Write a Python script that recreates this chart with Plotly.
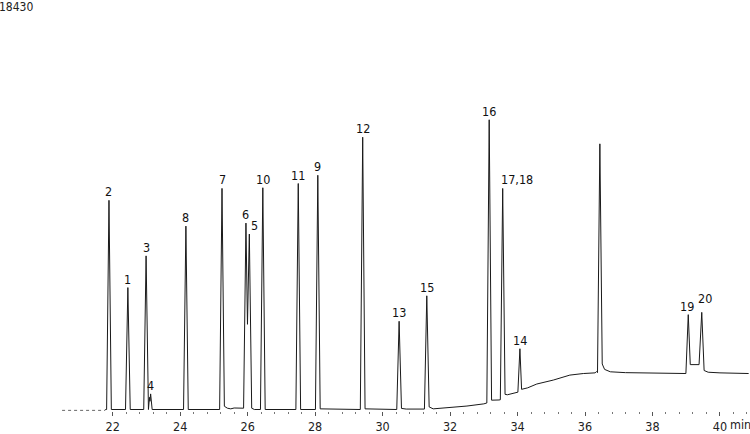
import plotly.graph_objects as go

# ---- data (time in min, signal in counts) ----
trace_time = [
    21.78, 21.82, 21.89, 21.96,
    22.38, 22.45, 22.52,
    22.92, 22.99, 23.05, 23.06, 23.09, 23.105, 23.125, 23.17,
    24.10, 24.17, 24.24,
    25.17, 25.24, 25.31, 25.40, 25.50, 25.60, 25.85, 25.88, 25.95, 25.995, 26.05, 26.12, 26.20,
    26.38, 26.45, 26.52,
    27.43, 27.50, 27.57,
    28.01, 28.08, 28.15,
    29.34, 29.41, 29.48,
    30.42, 30.49, 30.56, 30.70,
    31.24, 31.31, 31.38, 31.50,
    32.00, 32.50, 33.00, 33.09, 33.16, 33.23, 33.45, 33.49, 33.56, 33.63, 33.70, 33.95, 34.01, 34.07, 34.12,
    34.30, 34.57, 35.06, 35.55, 35.95, 36.30, 36.34, 36.37, 36.44, 36.51, 36.58, 36.75, 37.20, 38.00,
    38.99, 39.06, 39.12, 39.38, 39.46, 39.53, 39.65, 40.00, 40.85,
]
trace_signal = [
    0, 0, 9650, 0,
    0, 5625, 0,
    0, 7088, 0, 0, 560, 380, 720, 0,
    0, 8460, 0,
    0, 10200, 150, 60, 30, 70, 70, 60, 8600, 3930, 8094, 60, 0,
    0, 10230, 0,
    0, 10426, 0,
    0, 10806, 30,
    0, 12562, 30,
    0, 4070, 50, 20,
    20, 5245, 120, 30,
    80, 160, 260, 300, 13367, 430, 440, 450, 10198, 700, 680, 760, 800, 2803, 930,
    1000, 1175, 1358, 1587, 1660, 1690, 1750, 1700, 12256, 2100, 1850, 1740, 1700, 1680,
    1660, 4376, 2071, 2071, 4482, 1800, 1720, 1690, 1660,
]
# noisy start of the run (drawn dotted)
start_time = [20.50, 21.78]
start_signal = [-40, -40]

peak_labels = ["2", "1", "3", "4", "8", "7", "6", "5", "10", "11", "9", "12",
               "13", "15", "16", "17,18", "14", "19", "20"]
peak_rt = [21.89, 22.45, 22.99, 23.125, 24.17, 25.24, 25.95, 26.05, 26.45, 27.50,
           28.08, 29.41, 30.49, 31.31, 33.16, 33.56, 34.07, 39.06, 39.46]
peak_apex = [9650, 5625, 7088, 720, 8460, 10200, 8600, 8094, 10230, 10426,
             10806, 12562, 4070, 5245, 13367, 10198, 2803, 4376, 4482]

major_ticks = [22, 24, 26, 28, 30, 32, 34, 36, 38, 40]
major_ticktext = ["22", "24", "26", "28", "30", "32", "34", "36", "38", "40"]
full_scale_label = "18430"
time_unit = "min"

FONT = "DejaVu Sans Condensed, DejaVu Sans"
minor_ticks = [round(22 + 0.4 * i, 2) for i in range(48)]

fig = go.Figure()
fig.add_trace(go.Scatter(x=start_time, y=start_signal, mode="lines",
                         line=dict(color="#666", width=1, dash="dot"),
                         hoverinfo="skip", showlegend=False))
fig.add_trace(go.Scatter(x=trace_time, y=trace_signal, mode="lines",
                         line=dict(color="#1a1a1a", width=1),
                         showlegend=False))

# label offsets (style only)
shifts = {"5": (5, 0), "17,18": (14, 0), "20": (3, 5), "19": (-1, 0)}
for lab, t, h in zip(peak_labels, peak_rt, peak_apex):
    dx, dy = shifts.get(lab, (0, 0))
    fig.add_annotation(x=t, y=h, text=lab, showarrow=False, xanchor="center",
                       yanchor="bottom", xshift=dx, yshift=-1 + dy,
                       font=dict(family=FONT, size=12.5, color="#111"))

fig.add_annotation(xref="paper", yref="paper", x=0, y=1, text=full_scale_label,
                   showarrow=False, xanchor="left", yanchor="middle",
                   xshift=-3, yshift=3, font=dict(family=FONT, size=12, color="#222"))
fig.add_annotation(x=40, yref="paper", y=0, text=time_unit, showarrow=False,
                   xanchor="left", yanchor="top", xshift=8, yshift=-4,
                   font=dict(family=FONT, size=12.5, color="#222"))

fig.update_layout(
    width=750, height=434,
    margin=dict(l=0, r=0, t=10, b=19),
    paper_bgcolor="white", plot_bgcolor="white",
    xaxis=dict(range=[18.66, 40.89], showgrid=False, zeroline=False, showline=False,
               tickmode="array", tickvals=major_ticks, ticktext=major_ticktext,
               ticks="outside", ticklen=4, tickcolor="#555", tickwidth=1,
               tickfont=dict(family=FONT, size=12.5, color="#222"),
               minor=dict(tickvals=minor_ticks, ticks="outside", ticklen=2,
                          tickcolor="#777", tickwidth=1)),
    yaxis=dict(range=[-69, 18430], visible=False),
)

fig.write_html("out.html", config={"displayModeBar": False},
               post_script="document.body.style.margin='0';document.body.style.padding='0';")
